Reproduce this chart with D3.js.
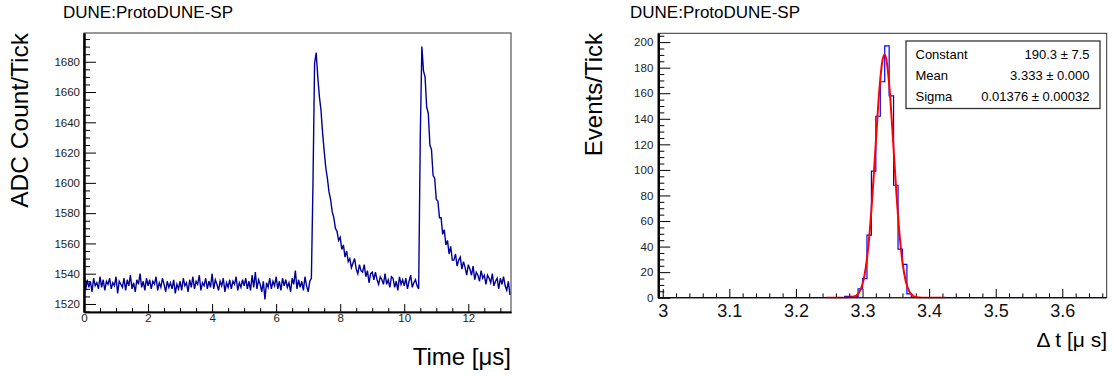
<!DOCTYPE html>
<meta charset="utf-8">
<head>
    <title> ProtoDUNE-SP waveform and timing </title>
    <script src="https://d3js.org/d3.v7.min.js"></script>
    <style>
        body { margin: 0; background: #ffffff; }
        text { font-family: "Liberation Sans", Arial, Helvetica, sans-serif; }
    </style>
</head>
<body>
<div id="my_dataviz"></div>
<script>

// ---- data ----

// left: ADC waveform, one listed value every 0.05 us starting at t = 0
var waveStep = 0.05;
var adcCounts = [
  1542,1529,1536,1531,1535,1528,1537,1532,1534,1530,1538,1531,1536,1529,1535,1533,1537,1530,1534,1532,
  1538,1527,1535,1533,1531,1537,1529,1536,1532,1539,1530,1534,1528,1536,1533,1540,1531,1535,1529,1537,
  1532,1536,1530,1535,1533,1538,1529,1534,1531,1537,1533,1528,1535,1531,1534,1530,1536,1527,1533,1530,
  1535,1529,1537,1532,1534,1528,1536,1531,1538,1530,1535,1533,1539,1529,1534,1532,1537,1530,1535,1531,
  1540,1530,1536,1533,1529,1535,1532,1537,1528,1534,1531,1536,1530,1535,1533,1538,1529,1534,1531,1536,
  1532,1537,1530,1535,1529,1539,1531,1541,1530,1536,1533,1528,1535,1523,1534,1531,1537,1530,1535,1532,
  1538,1530,1535,1529,1537,1532,1536,1531,1534,1528,1537,1533,1542,1530,1536,1531,1535,1529,1538,1532,
  1528,1535,1537,
  1600,1679,1686,1670,1657,1648,1633,1621,1610,1603,1594,1589,1581,1577,1570,1568,1562,1564,1556,1559,
  1551,1555,1548,
  1550,1544,1547,1550,1543,1540,1546,1542,1541,1546,1538,1542,1534,1540,1541,1536,1541,1536,1533,1538,
  1536,1533,1540,1533,1536,1531,1538,1537,1531,1535,1529,1538,1533,1536,1532,1537,1530,1535,1539,1531,
  1534,1536,1532,1530,
  1630,1690,1674,1670,1650,1646,1625,1622,1605,1603,1589,1588,1577,1577,1566,1569,1559,1562,1553,1558,
  1549,
  1549,1553,1545,1549,1551,1543,1548,1544,1539,1546,1543,1539,1545,1536,1541,1539,1535,1542,1537,1539,
  1533,1539,1537,1534,1540,1532,1535,1537,1530,1537,1533,1538,1532,1529,1535,1526
];
var leftXTicks = [0, 2, 4, 6, 8, 10, 12];
var leftYTicks = [1520, 1540, 1560, 1580, 1600, 1620, 1640, 1660, 1680];

// right: delta-t histogram, 101 bins of 1/150 us starting at 2.99333 us
var binLow = 2.99333;
var binWidth = 1 / 150;
var histCounts = [
  0,0,0,0,0,0,0,0,0,0, 0,0,0,0,0,0,0,0,0,0, 0,0,0,0,0,0,0,0,0,0, 0,0,0,0,0,0,0,0,0,0,
  0,0,1,1,1,7,15,49,99,142, 169,197,158,88,38,26,3,0,0,0,
  0,0,0,0,0,0,0,0,0,0, 0,0,0,0,0,0,0,0,0,0, 0,0,0,0,0,0,0,0,0,0, 0,0,0,0,0,0,0,0,0,0,
  0
];
// gaussian fit curve as drawn (red)
var fitX = [3.245,3.250,3.255,3.260,3.265,3.270,3.275,3.280,3.285,3.290,3.295,3.300,3.305,3.310,3.315,3.320,
            3.325,3.330,3.333,3.335,3.340,3.345,3.350,3.355,3.360,3.365,3.370,3.375,3.380,3.385,3.390,3.395,
            3.400,3.410,3.425];
var fitY = [0,0,0,0,0,0.01,0.03,0.11,0.43,1.4,4.2,10.7,24.0,47.0,80.9,121.8,
            160.8,185.8,190.3,188.3,167.2,130.1,88.7,53.0,27.8,12.7,5.1,1.8,0.56,0.15,0.04,0,
            0,0,0];
var rightXTicks = [3.0, 3.1, 3.2, 3.3, 3.4, 3.5, 3.6];
var rightYTicks = [0, 20, 40, 60, 80, 100, 120, 140, 160, 180, 200];
var statNames = ["Constant", "Mean", "Sigma"];
var statValues = ["190.3 \u00b1 7.5", "3.333 \u00b1 0.000", "0.01376 \u00b1 0.00032"];

// ---- drawing ----
var svg = d3.select("#my_dataviz")
    .append("svg")
    .attr("width", 1114)
    .attr("height", 376);

var waveColor = "#000099";

// inward ticks helper
function ticks(g, axis, vals, len, fmt) {
    return g.append("g").call(axis.tickValues(vals).tickSize(-len).tickSizeOuter(0)
        .tickFormat(fmt || ""));
}

// ================= left pad =================
var x = d3.scaleLinear().domain([0, 13.333]).range([84, 511]);
var y = d3.scaleLinear().domain([1514.7, 1699]).range([312, 33]);

svg.append("clipPath").attr("id", "clipL").append("rect")
    .attr("x", 84).attr("y", 33).attr("width", 427).attr("height", 279);

svg.append("rect")
    .attr("x", 84).attr("y", 33).attr("width", 427).attr("height", 279)
    .attr("fill", "none").attr("stroke", "#333").attr("stroke-width", 1);

svg.append("path")
    .datum(adcCounts)
    .attr("clip-path", "url(#clipL)")
    .attr("fill", "none")
    .attr("stroke", waveColor)
    .attr("stroke-width", 1.4)
    .attr("d", d3.line()
        .x(function(d, i) { return x(i * waveStep) })
        .y(function(d) { return y(d) })
    );

var gxL = svg.append("g").attr("transform", "translate(0,312)");
ticks(gxL, d3.axisBottom(x), d3.range(0.5, 13.3, 0.5).filter(function(v) { return v % 2 != 0 }), 4);
ticks(gxL, d3.axisBottom(x).tickPadding(2), leftXTicks, 8, d3.format("~g"));
var gyL = svg.append("g").attr("transform", "translate(84,0)");
ticks(gyL, d3.axisLeft(y), d3.range(1515, 1699, 5).filter(function(v) { return v % 20 != 0 }), 6);
ticks(gyL, d3.axisLeft(y).tickPadding(4), leftYTicks, 12, d3.format("~g"));

gxL.selectAll("text").style("font-size", "11.5px").attr("fill", "#222");
gyL.selectAll("text").style("font-size", "11.5px").attr("fill", "#222");
gxL.selectAll(".domain").attr("stroke", "#000").attr("stroke-width", 1.5);
gyL.selectAll(".domain").attr("stroke", "#000").attr("stroke-width", 2);

svg.append("text")
    .attr("x", 63).attr("y", 17.5)
    .text("DUNE:ProtoDUNE-SP").style("font-size", "17px");
svg.append("text")
    .attr("text-anchor", "end")
    .attr("x", 511).attr("y", 365)
    .text("Time [\u03bcs]").style("font-size", "24px");
svg.append("text")
    .attr("text-anchor", "end")
    .attr("transform", "translate(28,33) rotate(-90)")
    .text("ADC Count/Tick").style("font-size", "24.5px");

// ================= right pad =================
var x2 = d3.scaleLinear().domain([binLow, binLow + histCounts.length * binWidth]).range([658.3, 1106.7]);
var y2 = d3.scaleLinear().domain([0, 206.9]).range([297.7, 33.3]);

svg.append("clipPath").attr("id", "clipR").append("rect")
    .attr("x", 658.3).attr("y", 33.3).attr("width", 448.4).attr("height", 265);

svg.append("rect")
    .attr("x", 658.3).attr("y", 33.3).attr("width", 448.4).attr("height", 264.4)
    .attr("fill", "none").attr("stroke", "#333").attr("stroke-width", 1);

var gxR = svg.append("g").attr("transform", "translate(0,297.7)");
ticks(gxR, d3.axisBottom(x2), d3.range(3.02, 3.67, 0.02).filter(function(v) { return Math.abs(v * 10 - Math.round(v * 10)) > 0.01 }), 4.3);
ticks(gxR, d3.axisBottom(x2).tickPadding(7), rightXTicks, 8.7, d3.format("~g"));
var gyR = svg.append("g").attr("transform", "translate(658.3,0)");
ticks(gyR, d3.axisLeft(y2), d3.range(5, 206, 5).filter(function(v) { return v % 20 != 0 }), 6);
ticks(gyR, d3.axisLeft(y2).tickPadding(5), rightYTicks, 12, d3.format("~g"));

gxR.selectAll("text").style("font-size", "18px").attr("fill", "#111");
gyR.selectAll("text").style("font-size", "11.5px").attr("fill", "#222");
gxR.selectAll(".domain").attr("stroke", "none");
gyR.selectAll(".domain").attr("stroke", "#000").attr("stroke-width", 2);

// histogram outline (steps)
var histPath = d3.path();
histCounts.forEach(function(c, k) {
    var xa = x2(binLow + k * binWidth), xb = x2(binLow + (k + 1) * binWidth);
    if (k == 0) histPath.moveTo(xa, y2(c)); else histPath.lineTo(xa, y2(c));
    histPath.lineTo(xb, y2(c));
});
svg.append("path")
    .attr("clip-path", "url(#clipR)")
    .attr("d", histPath.toString())
    .attr("fill", "none")
    .attr("stroke", "#0000ff")
    .attr("stroke-width", 1.2);

svg.append("path")
    .datum(fitX)
    .attr("clip-path", "url(#clipR)")
    .attr("fill", "none")
    .attr("stroke", "#ff0000")
    .attr("stroke-width", 2)
    .attr("d", d3.line()
        .x(function(d) { return x2(d) })
        .y(function(d, i) { return y2(fitY[i]) })
        .curve(d3.curveMonotoneX)
    );

// bottom axis line drawn over the zero level of the histogram
svg.append("line")
    .attr("x1", 658.3).attr("x2", 1106.7)
    .attr("y1", 297.7).attr("y2", 297.7)
    .attr("stroke", "#000").attr("stroke-opacity", 0.55).attr("stroke-width", 1.5);

// stats box
svg.append("rect")
    .attr("x", 906).attr("y", 41).attr("width", 194).attr("height", 67.5)
    .attr("fill", "#fff").attr("stroke", "#333").attr("stroke-width", 1.3);
statNames.forEach(function(s, i) {
    svg.append("text").attr("x", 915.5).attr("y", 58.5 + i * 21.3)
        .text(s).style("font-size", "13px");
    svg.append("text").attr("x", 1089.5).attr("y", 58.5 + i * 21.3)
        .attr("text-anchor", "end")
        .text(statValues[i]).style("font-size", "13px");
});

svg.append("text")
    .attr("x", 630).attr("y", 17.5)
    .text("DUNE:ProtoDUNE-SP").style("font-size", "17px");
svg.append("text")
    .attr("text-anchor", "end")
    .attr("x", 1107).attr("y", 346.5)
    .text("\u0394 t [\u03bc s]").style("font-size", "21px");
svg.append("text")
    .attr("text-anchor", "end")
    .attr("transform", "translate(601.5,33) rotate(-90)")
    .text("Events/Tick").style("font-size", "24px");

</script>
</body>
</html>
